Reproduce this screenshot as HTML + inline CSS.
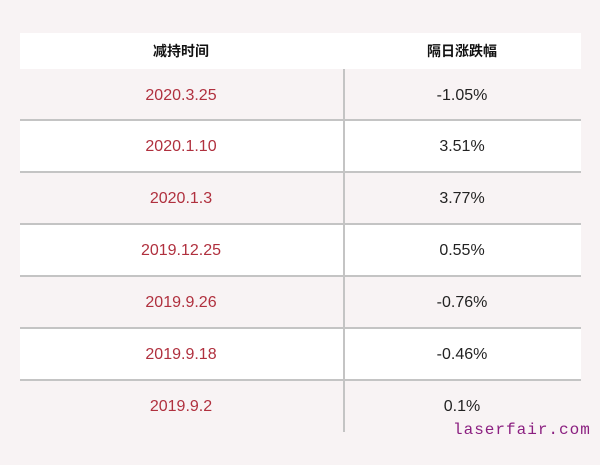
<!DOCTYPE html>
<html><head><meta charset="utf-8"><style>
body{margin:0;width:600px;height:465px;background:#f8f3f4;position:relative;overflow:hidden;font-family:"Liberation Sans","Noto Sans CJK SC",sans-serif}
.r{position:absolute;left:20px;width:561px}
.c{position:absolute;font-size:16px;text-align:center;width:260px}
.l{left:51px;color:#b0303e}.rt{left:332px;color:#222}
</style></head><body>
<div class="r" style="top:33px;height:36px;background:#fff"></div>
<div class="r" style="top:121px;height:51px;background:#fff"></div>
<div class="r" style="top:225px;height:51px;background:#fff"></div>
<div class="r" style="top:329px;height:51px;background:#fff"></div>
<div class="r" style="top:119px;height:2px;background:#c4c4c4"></div>
<div class="r" style="top:171px;height:2px;background:#c4c4c4"></div>
<div class="r" style="top:223px;height:2px;background:#c4c4c4"></div>
<div class="r" style="top:275px;height:2px;background:#c4c4c4"></div>
<div class="r" style="top:327px;height:2px;background:#c4c4c4"></div>
<div class="r" style="top:379px;height:2px;background:#c4c4c4"></div>
<div style="position:absolute;left:343px;top:69px;width:2px;height:363px;background:#c4c4c4"></div>
<div class="c" style="left:51px;top:41px;color:#111;font-size:14px;font-weight:bold">减持时间</div>
<div class="c" style="left:332px;top:41px;color:#111;font-size:14px;font-weight:bold">隔日涨跌幅</div>
<div class="c l" style="top:87px">2020.3.25</div><div class="c rt" style="top:87px">-1.05%</div>
<div class="c l" style="top:138px">2020.1.10</div><div class="c rt" style="top:138px">3.51%</div>
<div class="c l" style="top:190px">2020.1.3</div><div class="c rt" style="top:190px">3.77%</div>
<div class="c l" style="top:242px">2019.12.25</div><div class="c rt" style="top:242px">0.55%</div>
<div class="c l" style="top:294px">2019.9.26</div><div class="c rt" style="top:294px">-0.76%</div>
<div class="c l" style="top:346px">2019.9.18</div><div class="c rt" style="top:346px">-0.46%</div>
<div class="c l" style="top:398px">2019.9.2</div><div class="c rt" style="top:398px">0.1%</div>
<div style="position:absolute;left:453px;top:421px;font-family:'Liberation Mono',monospace;font-size:16px;color:#8b1f80;letter-spacing:1px">laserfair.com</div>
</body></html>
